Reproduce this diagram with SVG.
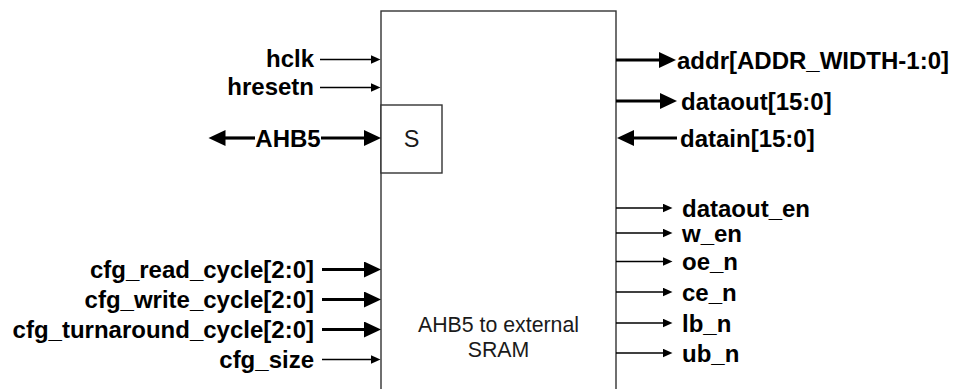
<svg xmlns="http://www.w3.org/2000/svg" width="962" height="389" viewBox="0 0 962 389">
  <style>
    .blk{fill:#fff;stroke:#333;stroke-width:1.4}
    .thin{stroke:#000;stroke-width:1.3;fill:none}
    .thick{stroke:#000;stroke-width:3.2;fill:none}
    .sig{font-family:"Liberation Sans",Arial,sans-serif;font-weight:bold;font-size:24px;fill:#000}
    .lbl{font-family:"Liberation Sans",Arial,sans-serif;font-size:21.3px;fill:#1a1a1a}
    .end{text-anchor:end}
    .mid{text-anchor:middle}
  </style>
  <defs>
    <marker id="aThin" markerUnits="userSpaceOnUse" markerWidth="11" markerHeight="10" refX="0.5" refY="4.5" orient="auto-start-reverse">
      <path d="M0,0 L10,4.5 L0,9 Z" fill="#000"/>
    </marker>
    <marker id="aThick" markerUnits="userSpaceOnUse" markerWidth="18" markerHeight="17" refX="0.5" refY="8" orient="auto-start-reverse">
      <path d="M0,0 L17,8 L0,16 Z" fill="#000"/>
    </marker>
  </defs>
  <rect width="962" height="389" fill="#fff"/>

  <g id="ahb5_sram_bridge">
    <rect class="blk" x="381" y="11" width="235" height="400"/>
    <text class="lbl mid" x="498.5" y="332">AHB5 to external</text>
    <text class="lbl mid" x="498.5" y="357">SRAM</text>
  </g>
  <g id="port_s">
    <rect class="blk" x="381" y="105" width="61" height="68"/>
    <text class="lbl mid" x="411.5" y="146.5" style="font-size:23.5px">S</text>
  </g>

  <g id="connectors">
    <line class="thin" x1="320" y1="59.5" x2="371" y2="59.5" marker-end="url(#aThin)"/>
    <line class="thin" x1="320" y1="87.5" x2="371" y2="87.5" marker-end="url(#aThin)"/>
    <line class="thick" x1="225" y1="138" x2="255" y2="138" marker-start="url(#aThick)"/>
    <line class="thick" x1="321" y1="138" x2="364.5" y2="138" marker-end="url(#aThick)"/>
    <line class="thick" x1="322" y1="269.5" x2="364.5" y2="269.5" marker-end="url(#aThick)"/>
    <line class="thick" x1="322" y1="299.5" x2="364.5" y2="299.5" marker-end="url(#aThick)"/>
    <line class="thick" x1="322" y1="329.5" x2="364.5" y2="329.5" marker-end="url(#aThick)"/>
    <line class="thin" x1="322" y1="359.5" x2="371" y2="359.5" marker-end="url(#aThin)"/>

    <line class="thick" x1="616" y1="60" x2="659.5" y2="60" marker-end="url(#aThick)"/>
    <line class="thick" x1="616" y1="101" x2="660.5" y2="101" marker-end="url(#aThick)"/>
    <line class="thick" x1="633.5" y1="138" x2="677" y2="138" marker-start="url(#aThick)"/>

    <line class="thin" x1="616" y1="208" x2="663" y2="208" marker-end="url(#aThin)"/>
    <line class="thin" x1="616" y1="233" x2="663" y2="233" marker-end="url(#aThin)"/>
    <line class="thin" x1="616" y1="261.5" x2="663" y2="261.5" marker-end="url(#aThin)"/>
    <line class="thin" x1="616" y1="292" x2="663" y2="292" marker-end="url(#aThin)"/>
    <line class="thin" x1="616" y1="323" x2="663" y2="323" marker-end="url(#aThin)"/>
    <line class="thin" x1="616" y1="353" x2="663" y2="353" marker-end="url(#aThin)"/>
  </g>

  <g id="signal_labels">
    <text class="sig end" x="314" y="66.5">hclk</text>
    <text class="sig end" x="314" y="94.5">hresetn</text>
    <text class="sig mid" x="288" y="146.5">AHB5</text>
    <text class="sig end" x="314" y="277.5">cfg_read_cycle[2:0]</text>
    <text class="sig end" x="314" y="307.5">cfg_write_cycle[2:0]</text>
    <text class="sig end" x="314" y="337.5">cfg_turnaround_cycle[2:0]</text>
    <text class="sig end" x="314" y="367.5">cfg_size</text>

    <text class="sig" x="677" y="68.5">addr[ADDR_WIDTH-1:0]</text>
    <text class="sig" x="681" y="109.5">dataout[15:0]</text>
    <text class="sig" x="680" y="146.5">datain[15:0]</text>
    <text class="sig" x="682" y="216.5">dataout_en</text>
    <text class="sig" x="682" y="241.5">w_en</text>
    <text class="sig" x="682" y="270">oe_n</text>
    <text class="sig" x="682" y="300.5">ce_n</text>
    <text class="sig" x="682" y="331.5">lb_n</text>
    <text class="sig" x="682" y="361.5">ub_n</text>
  </g>
</svg>
